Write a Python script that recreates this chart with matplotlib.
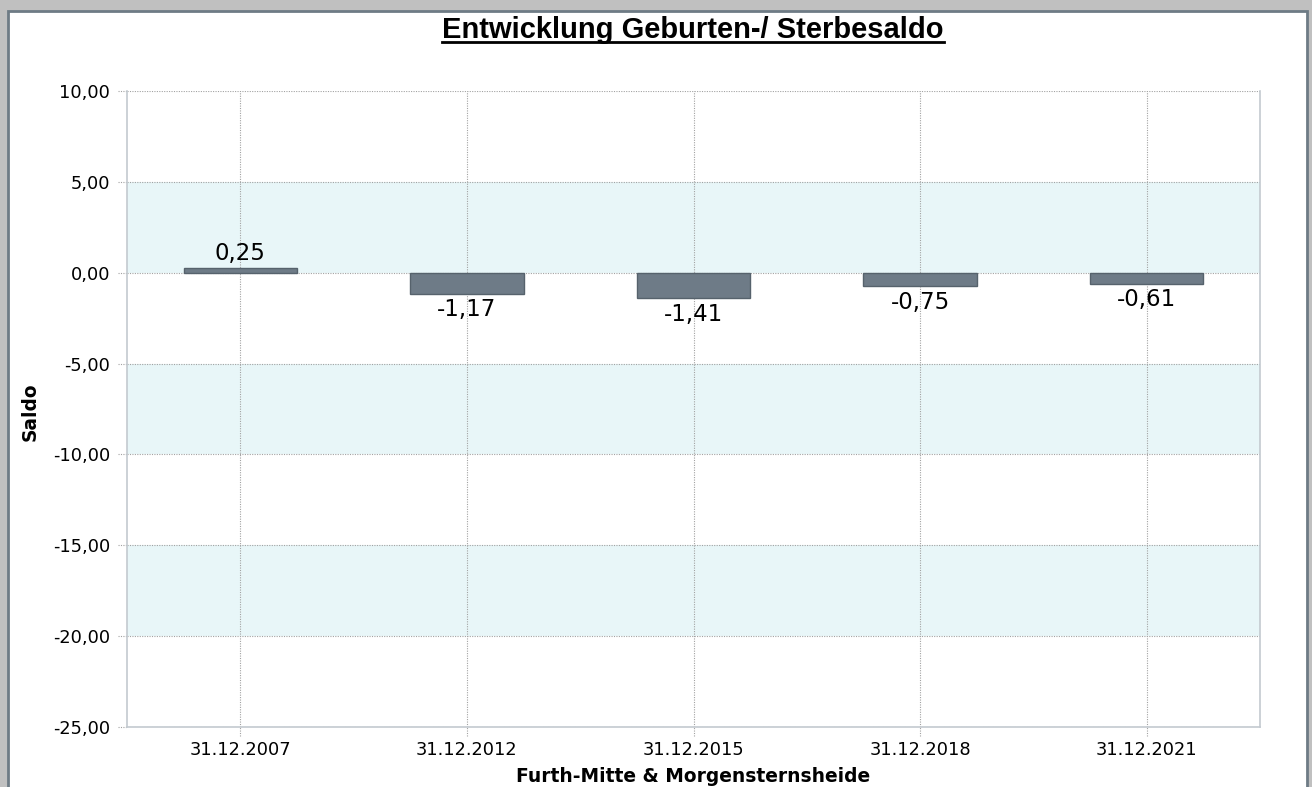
import matplotlib
matplotlib.use("Agg")
import matplotlib.pyplot as plt
from matplotlib.patches import Rectangle
from matplotlib.lines import Line2D

# ---- data ----
categories = ["31.12.2007", "31.12.2012", "31.12.2015", "31.12.2018", "31.12.2021"]
values = [0.25, -1.17, -1.41, -0.75, -0.61]
value_labels = ["0,25", "-1,17", "-1,41", "-0,75", "-0,61"]
y_ticks = [10, 5, 0, -5, -10, -15, -20, -25]
y_tick_labels = ["10,00", "5,00", "0,00", "-5,00", "-10,00", "-15,00", "-20,00", "-25,00"]
title = "Entwicklung Geburten-/ Sterbesaldo"
x_label = "Furth-Mitte & Morgensternsheide"
y_label = "Saldo"

W, H = 1312, 787
fig = plt.figure(figsize=(W / 100, H / 100), dpi=100)
fig.patch.set_facecolor("#c0c0c0")

# white panel with dark border
panel = Rectangle((8 / W, -0.01), (1307 - 8) / W, (H - 11) / H + 0.01, transform=fig.transFigure,
                  facecolor="white", edgecolor="#6e7b85", linewidth=2, zorder=-5)
fig.add_artist(panel)

left, right, top, bottom = 127, 1260, 91, 727
ax = fig.add_axes([left / W, 1 - bottom / H, (right - left) / W, (bottom - top) / H])
ax.set_zorder(2)
ax.set_facecolor("white")

ax.set_xlim(-0.5, len(categories) - 0.5)
ax.set_ylim(-25, 10)

# alternating bands
for lo in [-20, -10, 0]:
    ax.axhspan(lo, lo + 5, color="#e8f6f8", zorder=0, linewidth=0)

grid_color = "#a2a2a2"
dot = (0, (1, 1.2))
for yv in y_ticks:
    ax.axhline(yv, color=grid_color, linewidth=0.8, linestyle=dot, zorder=1)
xs = list(range(len(categories)))
for xv in xs:
    ax.axvline(xv, color=grid_color, linewidth=0.8, linestyle=dot, zorder=1)

# dotted tick extensions
ax.hlines(y_ticks, -9 / (right - left), 0, transform=ax.get_yaxis_transform(),
          colors=grid_color, linewidth=0.8, linestyles=dot, clip_on=False)
ax.vlines(xs, -9 / (bottom - top), 0, transform=ax.get_xaxis_transform(),
          colors=grid_color, linewidth=0.8, linestyles=dot, clip_on=False)

bars = ax.bar(xs, values, width=0.5, color="#6e7b87", edgecolor="#56626c",
              linewidth=1, zorder=3)

for x, v, lab in zip(xs, values, value_labels):
    if v >= 0:
        ax.annotate(lab, (x, v), xytext=(0, 2), textcoords="offset points",
                    ha="center", va="bottom", fontsize=16.5, color="black", zorder=4)
    else:
        ax.annotate(lab, (x, v), xytext=(0, -3), textcoords="offset points",
                    ha="center", va="top", fontsize=16.5, color="black", zorder=4)

ax.set_yticks(y_ticks)
ax.set_yticklabels(y_tick_labels)
ax.set_xticks(xs)
ax.set_xticklabels(categories)
ax.tick_params(axis="both", length=0, labelsize=12.8, colors="black")
ax.tick_params(axis="y", pad=12)
ax.tick_params(axis="x", pad=10)

for s in ["left", "right", "bottom"]:
    ax.spines[s].set_color("#c3cad0")
    ax.spines[s].set_linewidth(1.2)
ax.spines["top"].set_visible(False)

# axis labels
fig.text(30 / W, 1 - 412 / H, y_label, rotation=90, ha="center", va="center",
         fontsize=13.4, fontweight="bold")
fig.text(693 / W, 1 - 776 / H, x_label, ha="center", va="center",
         fontsize=13.4, fontweight="bold")

# title with underline
t = fig.text(693 / W, 1 - 38 / H, title, ha="center", va="baseline",
             fontsize=21, fontweight="bold", family="Liberation Sans")
fig.canvas.draw()
bb = t.get_window_extent(renderer=fig.canvas.get_renderer())
uy = 1 - 42 / H
fig.add_artist(Line2D([bb.x0 / W, bb.x1 / W], [uy, uy], transform=fig.transFigure,
                      color="black", linewidth=2))

fig.savefig("out.png", dpi=100, facecolor=fig.get_facecolor())
